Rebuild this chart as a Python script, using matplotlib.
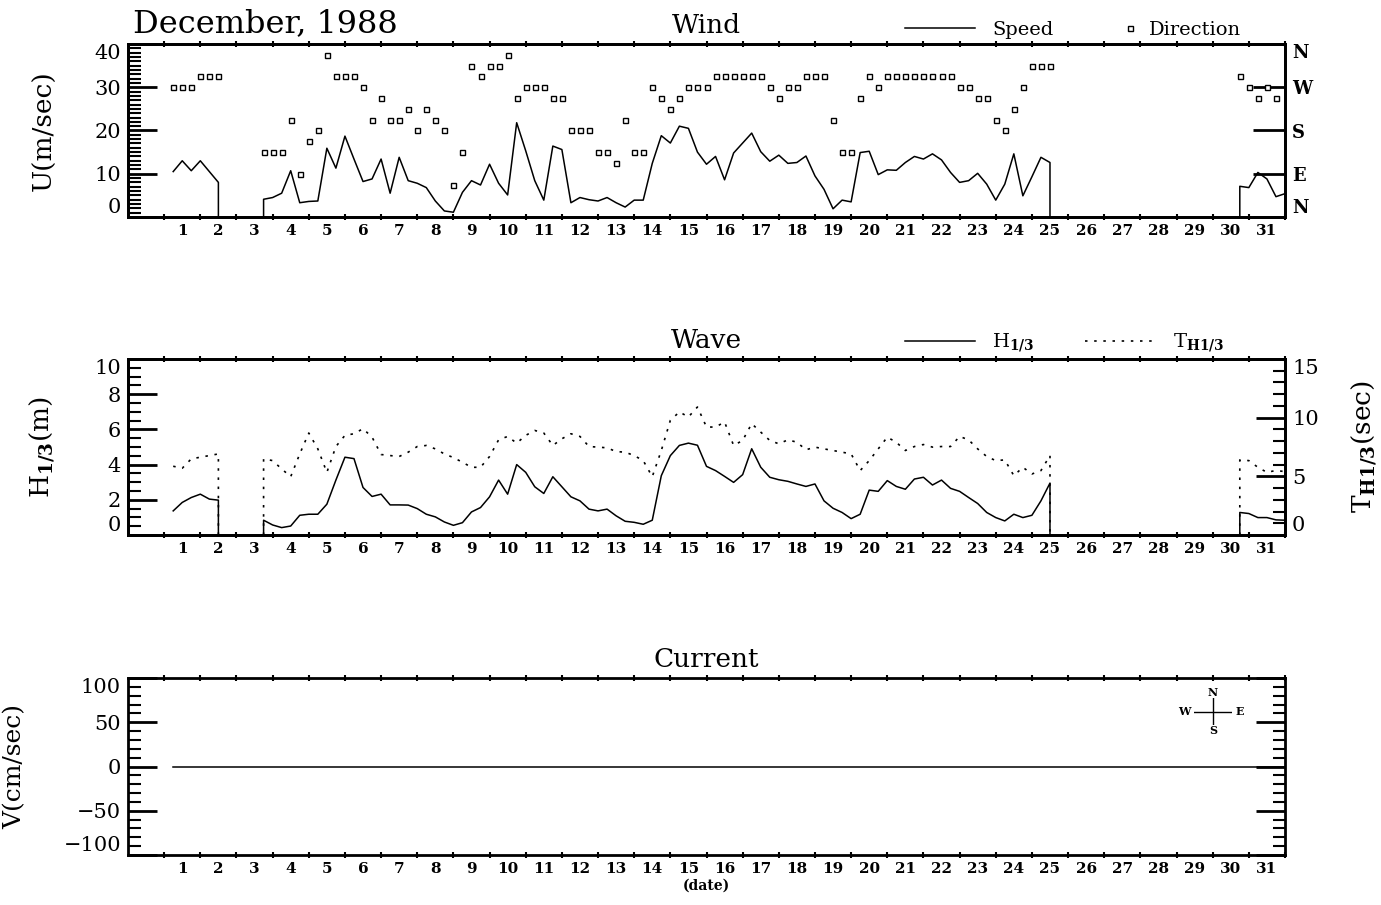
import numpy as np
import matplotlib
matplotlib.use("Agg")
import matplotlib.pyplot as plt
from matplotlib.ticker import MultipleLocator, FixedLocator

plt.rcParams['font.family'] = ['DejaVu Serif']
plt.rcParams['mathtext.fontset'] = 'dejavuserif'

nan = np.nan

# 6-hourly records from Dec 1 06h to Dec 31 24h (x = days since Dec 1 00h)
hours = np.arange(6, 31 * 24 + 1, 6)
days = list(range(1, 32))

# Wind speed (m/sec), four values per day, nan = no record
wind_speed = [
    10.5, 13.0, 10.7, 13.0,   10.5, 8.0, nan, nan,     nan, nan, 4.1, 4.5,
    5.5, 10.7, 3.3, 3.6,      3.7, 15.9, 11.3, 18.7,   13.4, 8.2, 8.8, 13.4,
    5.5, 13.8, 8.4, 7.8,      6.8, 3.7, 1.4, 1.1,      5.7, 8.4, 7.4, 12.2,
    7.8, 5.1, 21.8, 15.3,     8.4, 3.9, 16.4, 15.6,    3.3, 4.5, 4.0, 3.7,
    4.5, 3.3, 2.3, 3.9,       3.9, 12.4, 18.8, 17.1,   21.0, 20.5, 15.0, 12.2,
    14.0, 8.6, 14.8, 17.1,    19.4, 15.1, 12.9, 14.3,  12.4, 12.6, 14.1, 9.5,
    6.4, 1.9, 3.9, 3.5,       14.9, 15.2, 9.8, 10.9,   10.8, 12.6, 14.0, 13.4,
    14.6, 13.2, 10.3, 8.0,    8.4, 10.1, 7.6, 3.9,     7.6, 14.6, 4.9, 9.3,
    13.8, 12.6, nan, nan,     nan, nan, nan, nan,      nan, nan, nan, nan,
    nan, nan, nan, nan,       nan, nan, nan, nan,      nan, nan, 7.1, 6.8,
    10.3, 8.8, 4.7, 5.4,
]

# Wind direction (deg from N), 16-point compass
wind_dir = [
    270, 270, 270, 292.5,     292.5, 292.5, nan, nan,  nan, nan, 135, 135,
    135, 202.5, 90, 157.5,    180, 337.5, 292.5, 292.5, 292.5, 270, 202.5, 247.5,
    202.5, 202.5, 225, 180,   225, 202.5, 180, 67.5,   135, 315, 292.5, 315,
    315, 337.5, 247.5, 270,   270, 270, 247.5, 247.5,  180, 180, 180, 135,
    135, 112.5, 202.5, 135,   135, 270, 247.5, 225,    247.5, 270, 270, 270,
    292.5, 292.5, 292.5, 292.5, 292.5, 292.5, 270, 247.5, 270, 270, 292.5, 292.5,
    292.5, 202.5, 135, 135,   247.5, 292.5, 270, 292.5, 292.5, 292.5, 292.5, 292.5,
    292.5, 292.5, 292.5, 270, 270, 247.5, 247.5, 202.5, 180, 225, 270, 315,
    315, 315, nan, nan,       nan, nan, nan, nan,      nan, nan, nan, nan,
    nan, nan, nan, nan,       nan, nan, nan, nan,      nan, nan, 292.5, 270,
    247.5, 270, 247.5, nan,
]

# Significant wave height H1/3 (m)
wave_h = [
    1.37, 1.85, 2.13, 2.32,   2.04, 1.98, nan, nan,    nan, nan, 0.84, 0.57,
    0.42, 0.51, 1.12, 1.18,   1.18, 1.75, 3.12, 4.42,  4.34, 2.70, 2.19, 2.32,
    1.71, 1.71, 1.70, 1.50,   1.18, 1.03, 0.74, 0.55,  0.70, 1.31, 1.56, 2.17,
    3.12, 2.32, 4.00, 3.56,   2.74, 2.36, 3.31, 2.74,  2.17, 1.94, 1.47, 1.37,
    1.47, 1.09, 0.78, 0.72,   0.61, 0.84, 3.37, 4.51,  5.09, 5.22, 5.10, 3.90,
    3.66, 3.33, 2.99, 3.43,   4.90, 3.85, 3.28, 3.14,  3.05, 2.90, 2.76, 2.90,
    1.94, 1.52, 1.28, 0.93,   1.18, 2.55, 2.48, 3.09,  2.76, 2.60, 3.18, 3.28,
    2.84, 3.12, 2.65, 2.48,   2.13, 1.79, 1.28, 0.99,  0.80, 1.18, 0.99, 1.12,
    1.94, 2.95, nan, nan,     nan, nan, nan, nan,      nan, nan, nan, nan,
    nan, nan, nan, nan,       nan, nan, nan, nan,      nan, nan, 1.28, 1.22,
    0.99, 0.99, 0.86, 0.84,
]

# Significant wave period TH1/3 (sec)
wave_t = [
    5.86, 5.69, 6.49, 6.63,   6.77, 6.91, nan, nan,    nan, nan, 6.49, 6.34,
    5.63, 4.97, 6.91, 8.69,   7.34, 5.34, 7.54, 8.49,  8.63, 9.06, 8.34, 6.86,
    6.77, 6.69, 7.06, 7.54,   7.63, 7.34, 6.91, 6.60,  6.20, 5.77, 5.77, 6.69,
    8.11, 8.40, 7.83, 8.49,   8.91, 8.69, 7.63, 8.20,  8.63, 8.40, 7.54, 7.49,
    7.43, 7.11, 7.06, 6.77,   6.34, 4.97, 7.20, 9.77,  10.49, 10.06, 10.91, 9.20,
    9.20, 9.63, 7.63, 8.06,   9.49, 8.77, 8.06, 7.77,  8.11, 7.91, 7.26, 7.49,
    7.34, 7.20, 7.06, 6.91,   5.49, 6.34, 7.34, 8.34,  7.90, 7.20, 7.54, 7.71,
    7.49, 7.54, 7.54, 8.40,   8.11, 7.34, 6.69, 6.34,  6.40, 5.06, 5.77, 5.20,
    5.49, 6.77, nan, nan,     nan, nan, nan, nan,      nan, nan, nan, nan,
    nan, nan, nan, nan,       nan, nan, nan, nan,      nan, nan, 6.40, 6.34,
    5.77, 5.34, 5.50, 5.40,
]

# Current speed (cm/sec): flat zero record all month
current_v = [0.0] * len(hours)

t = hours / 24.0
day_centers = np.array(days) - 0.5


def runs_with_drops(x, y):
    # split at missing values; each run falls to zero at its ends, as in the original chart
    y = np.asarray(y, dtype=float)
    ok = ~np.isnan(y)
    segs = []
    i, n = 0, len(y)
    while i < n:
        if not ok[i]:
            i += 1
            continue
        j = i
        while j < n and ok[j]:
            j += 1
        xs, ys = list(x[i:j]), list(y[i:j])
        if i > 0:
            xs.insert(0, x[i]); ys.insert(0, 0.0)
        if j < n:
            xs.append(x[j - 1]); ys.append(0.0)
        segs.append((xs, ys))
        i = j
    return segs


def style_axes(ax):
    for s in ax.spines.values():
        s.set_linewidth(2)
    ax.set_xlim(-1, 31)
    ax.set_xticks(day_centers)
    ax.set_xticklabels([str(d) for d in days], fontsize=11, fontweight='bold')
    ax.xaxis.set_minor_locator(FixedLocator(range(0, 32)))
    ax.tick_params(axis='x', which='major', length=0, pad=5)
    ax.tick_params(axis='x', which='minor', direction='inout', length=4, width=1.5,
                   top=True, bottom=True)


def style_left(ax, major, minor, size=15):
    ax.set_yticks(major)
    ax.yaxis.set_minor_locator(MultipleLocator(minor))
    ax.tick_params(axis='y', which='major', direction='in', length=21, width=2,
                   labelsize=size, pad=5)
    ax.tick_params(axis='y', which='minor', direction='in', length=9, width=1.5)


def end_labels_inside(labels):
    labels[0].set_va('bottom')
    labels[-1].set_va('top')


fig = plt.figure(figsize=(13.81, 9.05), dpi=100)
W, H = 1381, 905
x0, x1 = 128, 1285


def panel(top, bottom):
    return fig.add_axes([x0 / W, 1 - bottom / H, (x1 - x0) / W, (bottom - top) / H])


# ---------------- Wind ----------------
ax = panel(44, 217)
style_axes(ax)
ax.set_ylim(0, 40)
style_left(ax, [0, 10, 20, 30, 40], 1)
end_labels_inside(ax.get_yticklabels())
ax.set_ylabel('U(m/sec)', fontsize=19)
ax.yaxis.set_label_coords((57 - x0) / (x1 - x0), 0.5)
speed_handle = None
for xs, ys in runs_with_drops(t, wind_speed):
    ln, = ax.plot(xs, ys, color='black', lw=1.1)
    speed_handle = speed_handle or ln
ax.set_title('Wind', fontsize=19, pad=8)

ax2 = ax.twinx()
ax2.set_ylim(0, 360)
dir_handle, = ax2.plot(t, wind_dir, linestyle='none', marker='s', markersize=3.6,
                       markerfacecolor='white', markeredgecolor='black', markeredgewidth=1)
ax2.set_yticks([0, 90, 180, 270, 360])
ax2.set_yticklabels(['N', 'E', 'S', 'W', 'N'], fontsize=13, fontweight='bold')
ax2.tick_params(axis='y', direction='in', length=23, width=2, pad=5)
end_labels_inside(ax2.get_yticklabels())
for s in ax2.spines.values():
    s.set_linewidth(2)

leg1 = ax.legend([speed_handle], ['Speed'], loc='center left',
                 bbox_to_anchor=((905 - x0) / (x1 - x0), (217 - 30) / 173),
                 frameon=False, borderpad=0, borderaxespad=0, handlelength=3.6,
                 handletextpad=0.9, fontsize=14)
ax.add_artist(leg1)
ax.legend([dir_handle], ['Direction'], loc='center left',
          bbox_to_anchor=((1122 - x0) / (x1 - x0), (217 - 30) / 173),
          frameon=False, borderpad=0, borderaxespad=0, handlelength=0.8,
          handletextpad=0.6, fontsize=14)

fig.text(133 / W, 1 - 32 / H, 'December, 1988', fontsize=23, ha='left', va='baseline')

# ---------------- Wave ----------------
ax = panel(359, 535)
style_axes(ax)
ax.set_ylim(0, 10)
style_left(ax, [0, 2, 4, 6, 8, 10], 0.5)
end_labels_inside(ax.get_yticklabels())
ax.set_ylabel(r'H$_{\mathbf{1/3}}$(m)', fontsize=19)
ax.yaxis.set_label_coords((57 - x0) / (x1 - x0), 0.5)
h_handle = None
for xs, ys in runs_with_drops(t, wave_h):
    ln, = ax.plot(xs, ys, color='black', lw=1.1)
    h_handle = h_handle or ln
ax.set_title('Wave', fontsize=19, pad=8)

ax2 = ax.twinx()
ax2.set_ylim(0, 15)
ax2.set_yticks([0, 5, 10, 15])
ax2.yaxis.set_minor_locator(MultipleLocator(1))
ax2.tick_params(axis='y', which='major', direction='in', length=21, width=2,
                labelsize=15, pad=5)
ax2.tick_params(axis='y', which='minor', direction='in', length=9, width=1.5)
end_labels_inside(ax2.get_yticklabels())
for s in ax2.spines.values():
    s.set_linewidth(2)
t_handle = None
for xs, ys in runs_with_drops(t, wave_t):
    ln, = ax2.plot(xs, ys, color='black', lw=1.2, linestyle=(0, (1.5, 4)))
    t_handle = t_handle or ln
ax2.set_ylabel(r'T$_{\mathbf{H1/3}}$(sec)', fontsize=19)
ax2.yaxis.set_label_coords((1350 - x0) / (x1 - x0), 0.5)

ax.legend([h_handle, t_handle], [r'H$_{\mathbf{1/3}}$', r'T$_{\mathbf{H1/3}}$'],
          loc='center left', ncol=2,
          bbox_to_anchor=((905 - x0) / (x1 - x0), (535 - 343) / 176),
          frameon=False, borderpad=0, borderaxespad=0, handlelength=3.6,
          handletextpad=0.9, columnspacing=2.6, fontsize=14)

# ---------------- Current ----------------
ax = panel(678, 855)
style_axes(ax)
ax.set_ylim(-100, 100)
style_left(ax, [-100, -50, 0, 50, 100], 10)
ax.tick_params(axis='y', which='both', right=True)
end_labels_inside(ax.get_yticklabels())
ax.set_ylabel('V(cm/sec)', fontsize=18)
ax.yaxis.set_label_coords((26 - x0) / (x1 - x0), 0.5)
ax.plot(t, current_v, color='black', lw=1.1)
ax.set_title('Current', fontsize=19, pad=8)
ax.set_xlabel('(date)', fontsize=10, fontweight='bold', labelpad=2)

# compass rose
rose = fig.add_axes([1194 / W, 1 - 725 / H, 38 / W, 27 / H])
rose.set_xlim(0, 1)
rose.set_ylim(0, 1)
rose.axis('off')
rose.axhline(0.5, color='black', lw=1)
rose.axvline(0.5, color='black', lw=1)
for lab, px, py, ha, va in [('N', 0.5, 1.0, 'center', 'bottom'), ('S', 0.5, 0.0, 'center', 'top'),
                            ('W', -0.1, 0.5, 'right', 'center'), ('E', 1.1, 0.5, 'left', 'center')]:
    rose.text(px, py, lab, fontsize=8, fontweight='bold', ha=ha, va=va)

fig.savefig('out.png', dpi=100)
